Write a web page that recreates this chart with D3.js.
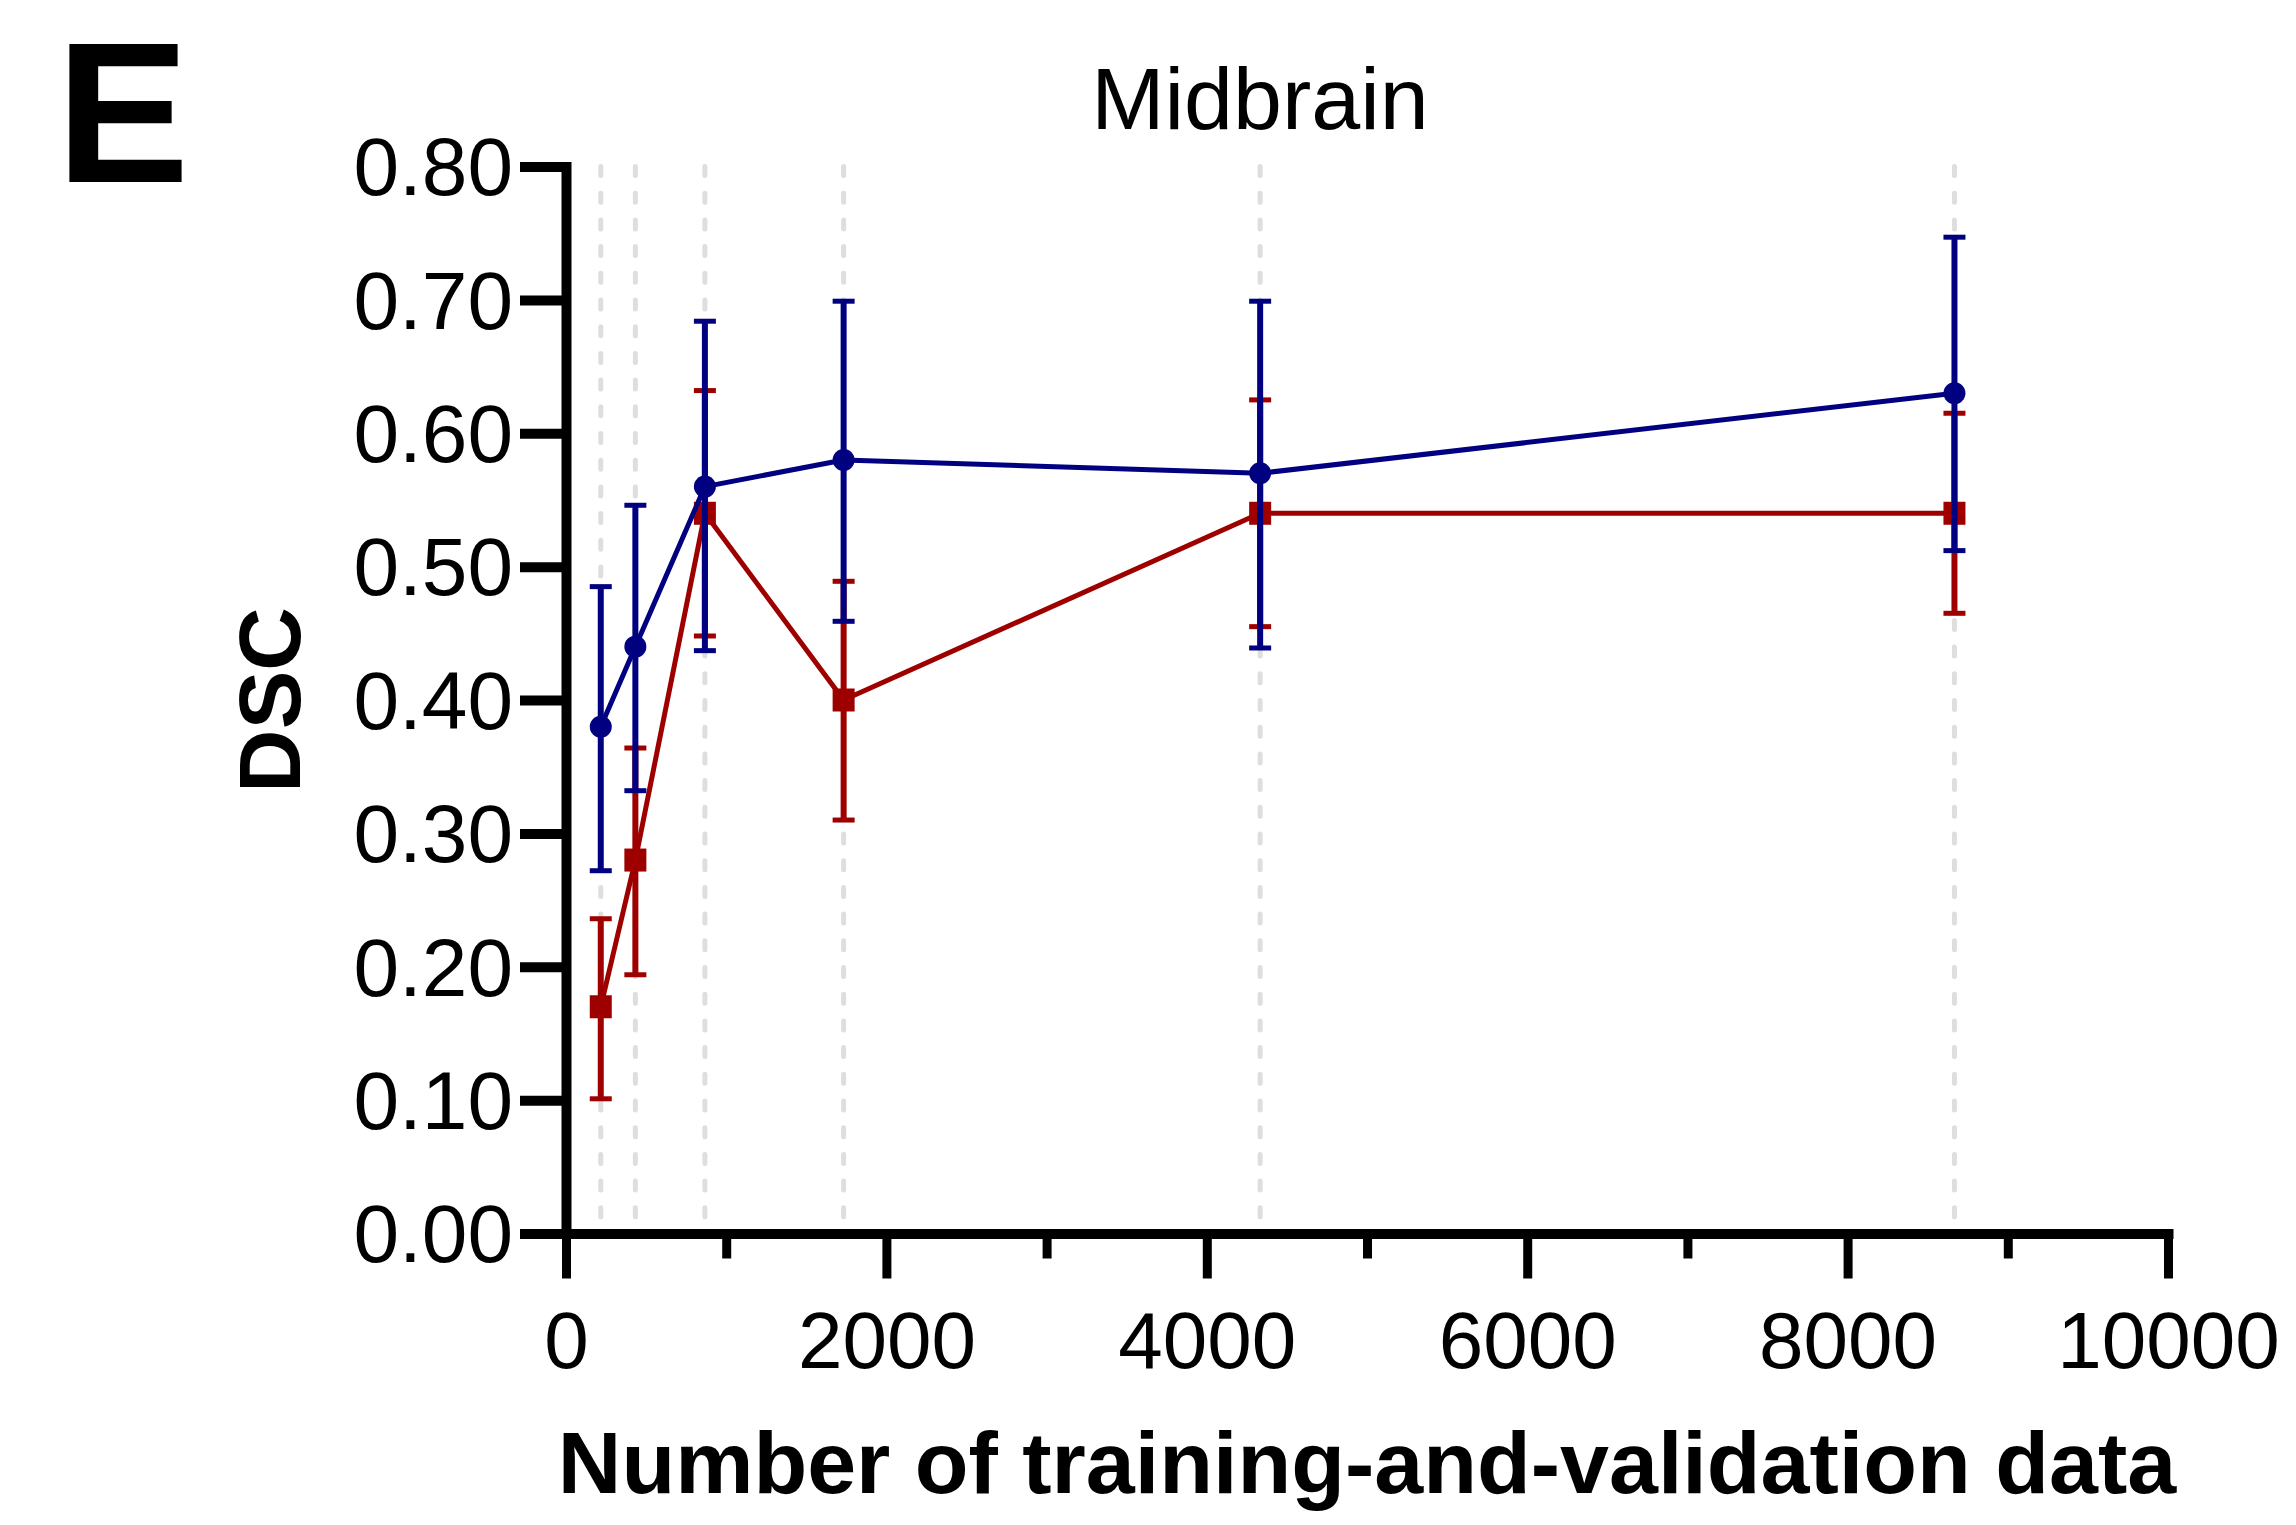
<!DOCTYPE html>
<html>
<head>
<meta charset="utf-8">
<script src="https://cdn.jsdelivr.net/npm/d3@7/dist/d3.min.js"></script>
<style>
  html, body { margin: 0; padding: 0; background: #ffffff; }
  svg { display: block; }
  text { font-family: "Liberation Sans", Arial, Helvetica, sans-serif; fill: #000; }
</style>
</head>
<body>
<svg id="chart" width="2296" height="1525"></svg>
<script>
// ---- data ----
const categories = [217, 433, 867, 1733, 4333, 8667];

const blueMean  = [0.380, 0.440, 0.560, 0.580, 0.570, 0.630];
const blueUpper = [0.485, 0.546, 0.684, 0.699, 0.699, 0.747];
const blueLower = [0.272, 0.332, 0.437, 0.459, 0.439, 0.512];

const redMean  = [0.170, 0.280, 0.540, 0.400, 0.540, 0.540];
const redUpper = [0.236, 0.364, 0.632, 0.489, 0.625, 0.615];
const redLower = [0.101, 0.194, 0.448, 0.310, 0.455, 0.465];

const xMajorTicks = [0, 2000, 4000, 6000, 8000, 10000];
const xMinorTicks = [1000, 3000, 5000, 7000, 9000];
const yTicks = [0, 0.1, 0.2, 0.3, 0.4, 0.5, 0.6, 0.7, 0.8];

const panelLabel = "E";
const title = "Midbrain";
const xTitle = "Number of training-and-validation data";
const yTitle = "DSC";

// ---- layout ----
const svg = d3.select("#chart");
const x = d3.scaleLinear().domain([0, 10000]).range([566, 2168]);
const y = d3.scaleLinear().domain([0, 0.8]).range([1233.5, 166.5]);

const BLUE = "#000080";
const RED = "#9e0000";

// vertical dashed guide lines
svg.append("g").selectAll("line").data(categories).join("line")
  .attr("x1", d => x(d)).attr("x2", d => x(d))
  .attr("y1", y(0.8)).attr("y2", y(0))
  .attr("stroke", "#dedede").attr("stroke-width", 5)
  .attr("stroke-linecap", "round")
  .attr("stroke-dasharray", "9 17.7");

function drawSeries(mean, upper, lower, color, shape) {
  const g = svg.append("g");
  const pts = categories.map((c, i) => ({ c, m: mean[i], u: upper[i], l: lower[i] }));
  g.append("path").datum(pts)
    .attr("fill", "none").attr("stroke", color).attr("stroke-width", 5)
    .attr("stroke-linejoin", "round")
    .attr("d", d3.line().x(d => x(d.c)).y(d => y(d.m)));
  const eb = g.append("g").selectAll("g").data(pts).join("g");
  eb.append("line")
    .attr("x1", d => x(d.c)).attr("x2", d => x(d.c))
    .attr("y1", d => y(d.u)).attr("y2", d => y(d.l))
    .attr("stroke", color).attr("stroke-width", 6);
  ["u", "l"].forEach(k => {
    eb.append("line")
      .attr("x1", d => x(d.c) - 11).attr("x2", d => x(d.c) + 11)
      .attr("y1", d => y(d[k])).attr("y2", d => y(d[k]))
      .attr("stroke", color).attr("stroke-width", 5);
  });
  if (shape === "circle") {
    g.append("g").selectAll("circle").data(pts).join("circle")
      .attr("cx", d => x(d.c)).attr("cy", d => y(d.m)).attr("r", 11)
      .attr("fill", color);
  } else {
    g.append("g").selectAll("rect").data(pts).join("rect")
      .attr("x", d => x(d.c) - 11).attr("y", d => y(d.m) - 11.5)
      .attr("width", 22).attr("height", 23)
      .attr("fill", color);
  }
}

drawSeries(redMean, redUpper, redLower, RED, "square");
drawSeries(blueMean, blueUpper, blueLower, BLUE, "circle");

// ---- axes ----
const yAxis = svg.append("g").attr("transform", `translate(${x(0)},0)`)
  .call(d3.axisLeft(y).tickValues(yTicks).tickFormat(d3.format(".2f"))
    .tickSize(46).tickSizeOuter(0).tickPadding(7));
yAxis.select(".domain").attr("stroke", "#000").attr("stroke-width", 10)
  .attr("stroke-linecap", "square");
yAxis.selectAll(".tick line").attr("stroke", "#000").attr("stroke-width", 10);
yAxis.selectAll(".tick text").attr("font-size", 82).attr("dy", "0.345em")
  .style("font-family", '"Liberation Sans", Arial, sans-serif');

const xMinor = svg.append("g").attr("transform", `translate(0,${y(0)})`)
  .call(d3.axisBottom(x).tickValues(xMinorTicks).tickFormat("")
    .tickSize(25).tickSizeOuter(0));
xMinor.select(".domain").remove();
xMinor.selectAll(".tick line").attr("stroke", "#000").attr("stroke-width", 9);

const xAxis = svg.append("g").attr("transform", `translate(0,${y(0)})`)
  .call(d3.axisBottom(x).tickValues(xMajorTicks).tickFormat(d3.format("d"))
    .tickSize(45).tickSizeOuter(0).tickPadding(33));
xAxis.select(".domain").attr("stroke", "#000").attr("stroke-width", 10)
  .attr("stroke-linecap", "square");
xAxis.selectAll(".tick line").attr("stroke", "#000").attr("stroke-width", 9);
xAxis.selectAll(".tick text").attr("font-size", 80)
  .style("font-family", '"Liberation Sans", Arial, sans-serif');

// ---- titles ----
svg.append("text").attr("x", 56).attr("y", 182)
  .attr("font-size", 200).attr("font-weight", "bold").text(panelLabel);

svg.append("text").attr("x", 1260).attr("y", 129)
  .attr("text-anchor", "middle").attr("font-size", 88).text(title);

svg.append("text").attr("x", (x(0) + x(10000)) / 2).attr("y", 1493)
  .attr("text-anchor", "middle").attr("font-size", 88).attr("font-weight", "bold")
  .text(xTitle);

svg.append("text")
  .attr("transform", `translate(300,${(y(0) + y(0.8)) / 2}) rotate(-90)`)
  .attr("text-anchor", "middle").attr("font-size", 88).attr("font-weight", "bold")
  .text(yTitle);
</script>
</body>
</html>
